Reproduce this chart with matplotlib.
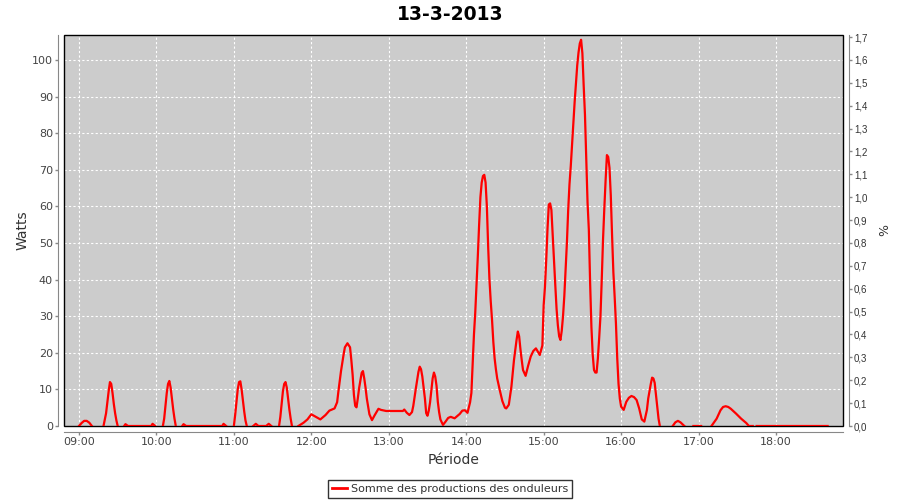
import numpy as np
import pandas as pd
import matplotlib
matplotlib.use('Agg')
import matplotlib.pyplot as plt
import matplotlib.dates as mdates
from matplotlib.patches import Rectangle
from matplotlib.ticker import FixedLocator, FuncFormatter

nan = np.nan

heures = [
    '09:00', '09:02', '09:04', '09:06', '09:08', '09:10', '09:14',
    '09:19', '09:21', '09:22', '09:23', '09:24', '09:25', '09:26', '09:27', '09:28', '09:29', '09:30', '09:32',
    '09:35', '09:36', '09:38', '09:56', '09:57', '09:59', '10:02',
    '10:05', '10:06', '10:07', '10:08', '10:09', '10:10', '10:11', '10:12', '10:13', '10:14', '10:15', '10:17',
    '10:20', '10:21', '10:23', '10:51', '10:52', '10:54', '10:57',
    '11:00', '11:01', '11:02', '11:03', '11:04', '11:05', '11:06', '11:07', '11:08', '11:09', '11:10', '11:12',
    '11:15', '11:17', '11:19', '11:25', '11:27', '11:29', '11:32',
    '11:35', '11:36', '11:37', '11:38', '11:39', '11:40', '11:41', '11:42', '11:43', '11:44', '11:45', '11:47',
    '11:50', '11:54', '11:57', '12:00', '12:03', '12:07', '12:11', '12:14', '12:18', '12:20',
    '12:21', '12:23', '12:25', '12:26', '12:28', '12:30', '12:31', '12:32', '12:33', '12:34',
    '12:35', '12:36', '12:37', '12:39', '12:40', '12:41', '12:42', '12:43', '12:44', '12:45',
    '12:47', '12:49', '12:52', '12:54', '12:58', '13:05', '13:11', '13:12', '13:14', '13:16',
    '13:18', '13:19', '13:21', '13:23', '13:24', '13:25', '13:26', '13:27', '13:28', '13:29',
    '13:30', '13:31', '13:32', '13:33', '13:34', '13:35', '13:36', '13:37', '13:38', '13:39',
    '13:40', '13:42', '13:44', '13:46', '13:48', '13:51', '13:55', '13:57', '13:59', '14:01',
    '14:02', '14:03', '14:04', '14:05', '14:06', '14:07', '14:08', '14:09', '14:10', '14:11',
    '14:12', '14:13', '14:14', '14:15', '14:16', '14:17', '14:18', '14:19', '14:20', '14:21',
    '14:22', '14:23', '14:24', '14:26', '14:28', '14:30', '14:31', '14:33', '14:35', '14:36',
    '14:37', '14:39', '14:40', '14:41', '14:42', '14:43', '14:44', '14:46', '14:48', '14:50',
    '14:52', '14:54', '14:57', '14:59', '15:00', '15:01', '15:02', '15:03', '15:04', '15:05',
    '15:06', '15:07', '15:08', '15:09', '15:10', '15:11', '15:12', '15:13', '15:14', '15:15',
    '15:16', '15:17', '15:18', '15:19', '15:20', '15:21', '15:22', '15:23', '15:24', '15:25',
    '15:26', '15:27', '15:28', '15:29', '15:30', '15:31', '15:32', '15:33', '15:34', '15:35',
    '15:36', '15:37', '15:38', '15:39', '15:40', '15:41', '15:42', '15:43', '15:44', '15:45',
    '15:46', '15:47', '15:48', '15:49', '15:50', '15:51', '15:52', '15:53', '15:54', '15:55',
    '15:56', '15:57', '15:58', '15:59', '16:00', '16:02', '16:04', '16:06', '16:08', '16:10',
    '16:12', '16:14', '16:16', '16:18', '16:20', '16:21', '16:23', '16:24', '16:25', '16:26',
    '16:27', '16:28', '16:29', '16:30', '16:35',
    '16:40', '16:42', '16:44', '16:46', '16:49', '16:52',
    '16:56', '17:02', '17:06',
    '17:10', '17:14', '17:17', '17:19', '17:21', '17:23', '17:25', '17:29', '17:33', '17:37',
    '17:39', '17:42', '17:43',
    '17:45', '18:40',
]
watts = [
    0, 0.8, 1.4, 1.4, 0.9, 0, nan,
    0, 3.5, 6.5, 9.5, 12, 11.5, 9, 6, 3.5, 1.5, 0, nan,
    0, 0.5, 0, 0, 0.6, 0, nan,
    0, 2, 5.5, 9, 11.5, 12.3, 10.5, 7.5, 4.5, 2, 0, nan,
    0, 0.5, 0, 0, 0.6, 0, nan,
    0, 3, 6.5, 10, 12, 12.2, 10, 7, 4, 1.5, 0, nan,
    0, 0.6, 0, 0, 0.6, 0, nan,
    0, 2.5, 6, 9.5, 11.5, 12, 10.5, 7.5, 4.5, 2, 0, nan,
    0, 0.9, 1.8, 3.2, 2.6, 1.8, 3.0, 4.2, 4.8, 6.5,
    9.5, 15, 19.5, 21.5, 22.6, 21.5, 18, 14, 8.5, 5.5,
    5.1, 7.5, 10.3, 14.5, 15, 13, 10.5, 7.5, 5.3, 3.2,
    1.6, 2.9, 4.7, 4.4, 4.1, 4.1, 4.1, 4.5, 3.6, 3.0,
    3.8, 5.5, 10.3, 14.8, 16.2, 15.5, 13.5, 10.5, 7.5, 3.5,
    2.8, 4.2, 6.5, 9.8, 13, 14.6, 13.5, 11, 6.6, 3.8,
    1.8, 0.3, 1.2, 2.2, 2.5, 2.1, 3.3, 4.2, 4.3, 3.6,
    5.0, 6.5, 9.0, 17, 25, 31, 38.5, 46.5, 55, 62.5,
    66.5, 68.3, 68.6, 66.5, 60, 49, 40, 34, 29, 23,
    18.5, 15.5, 13, 9.8, 6.8, 5.0, 4.8, 5.8, 10.7, 14.5,
    18, 23.5, 25.8, 24.5, 21, 18, 15.3, 13.7, 16.5, 19,
    20.5, 21.2, 19.4, 22, 33, 38, 45.5, 54, 60.5, 60.8,
    59, 52, 45, 38.5, 32, 27.5, 24.5, 23.5, 26, 30,
    35.5, 43, 50, 59, 66, 71, 77, 83, 88.5, 93.5,
    98.5, 102, 104.5, 105.5, 101.8, 93, 85, 73, 61, 53.6,
    39, 27, 19.5, 15.3, 14.6, 14.6, 18.5, 24, 30, 40,
    51, 59.5, 67.2, 74, 73.5, 70.5, 63, 52, 42, 35.3,
    28, 18.5, 11.5, 7.5, 5.3, 4.4, 6.6, 7.7, 8.2, 7.9,
    7.1, 4.8, 1.8, 1.2, 4.4, 7.5, 11.5, 13.2, 13.0, 11.8,
    8.5, 5.0, 2, 0, nan,
    0, 1.0, 1.4, 1.0, 0, nan,
    0, 0, nan,
    0, 2.0, 4.3, 5.2, 5.4, 5.2, 4.7, 3.4, 2.0, 0.8,
    0, 0, nan,
    0, 0,
]

jour = '2013-03-13'
temps = pd.to_datetime([jour + ' ' + h for h in heures])

gris_txt = '#444444'
gris_axe = '#888888'

plt.rcParams['font.family'] = ['DejaVu Sans']

fig = plt.figure(figsize=(9, 5), dpi=100)
ax = fig.add_axes([64 / 900, 1 - 426 / 500, 779 / 900, 391 / 500])
ax.set_facecolor('#cccccc')

ax.plot(temps, watts, color='red', linewidth=1.6, zorder=4,
        label='Somme des productions des onduleurs')

ax.set_xlim(pd.Timestamp(jour + ' 08:48:24'), pd.Timestamp(jour + ' 18:51:54'))
ax.set_ylim(0, 106.8)
ax.xaxis.set_major_locator(mdates.HourLocator())
ax.xaxis.set_major_formatter(mdates.DateFormatter('%H:%M'))
ax.set_yticks(range(0, 101, 10))

ax.grid(True, color='white', linestyle=(0, (2, 2)), linewidth=0.8)
ax.set_axisbelow(True)

for cote in ['top', 'right']:
    ax.spines[cote].set_visible(False)
for cote in ['left', 'bottom']:
    ax.spines[cote].set_position(('outward', 4))
    ax.spines[cote].set_color(gris_axe)
ax.add_patch(Rectangle((0, 0), 1, 1, transform=ax.transAxes, fill=False,
                       edgecolor='black', linewidth=1.0, zorder=3, clip_on=False))

ax.tick_params(axis='both', colors=gris_axe, labelcolor=gris_txt, labelsize=8,
               length=2, width=1, direction='out', pad=2)
ax.set_ylabel('Watts', fontsize=10, color='#333333', labelpad=2)
ax.set_xlabel('Période', fontsize=10, color='#333333', labelpad=4)

ax2 = ax.twinx()
ax2.set_ylim(0, 106.8 / 62.5)
pct = [i / 10 for i in range(18)]
ax2.yaxis.set_major_locator(FixedLocator(pct))
ax2.yaxis.set_major_formatter(FuncFormatter(lambda v, p: ('%.1f' % v).replace('.', ',')))
for cote in ['top', 'left', 'bottom']:
    ax2.spines[cote].set_visible(False)
ax2.spines['right'].set_position(('outward', 4))
ax2.spines['right'].set_color(gris_axe)
ax2.tick_params(axis='y', colors=gris_axe, labelcolor='#333333', length=2, width=1, pad=2)
for t in ax2.get_yticklabels():
    t.set_fontfamily('Liberation Sans')
    t.set_fontsize(7)
ax2.set_ylabel('%', fontsize=9, color='#333333', labelpad=8)

fig.suptitle('13-3-2013', fontsize=13.5, fontweight='bold', y=0.991, va='top')

leg = fig.legend(loc='lower center', bbox_to_anchor=(0.5, 0.004), fontsize=8,
                 frameon=True, fancybox=False, handlelength=1.4, handletextpad=0.3,
                 borderpad=0.35, borderaxespad=0)
leg.get_frame().set_edgecolor('black')
leg.get_frame().set_linewidth(1.0)
for t in leg.get_texts():
    t.set_color('#333333')
for l in leg.get_lines():
    l.set_linewidth(2)

fig.savefig('out.png', dpi=100)
